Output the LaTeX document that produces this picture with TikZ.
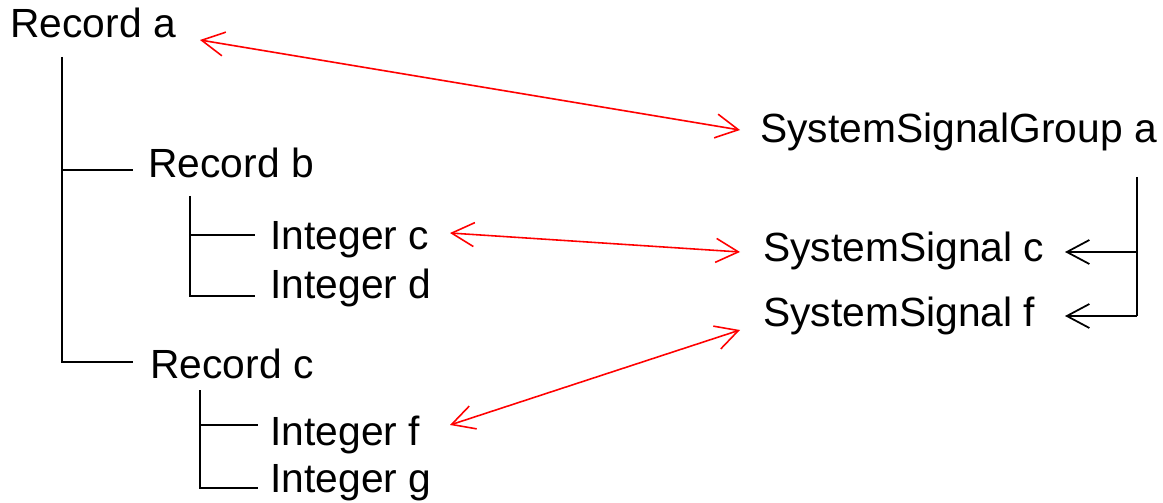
\documentclass[tikz,border=0pt]{standalone}
\usepackage{fontspec}
\setmainfont{Liberation Sans}
\usetikzlibrary{arrows.meta}

\begin{document}
\begin{tikzpicture}[
    x=0.02cm, y=-0.02cm,
    font=\fontsize{23.2}{27}\selectfont,
    lbl/.style={anchor=base west, inner sep=0pt},
    tree/.style={line width=1pt, draw=black},
    link/.style={{Straight Barb[length=4.5mm, width=4.8mm]}-{Straight Barb[length=4.5mm, width=4.8mm]}, line width=0.9pt, draw=red},
    feed/.style={-{Straight Barb[length=4.5mm, width=4.8mm]}, line width=1pt, draw=black}
  ]
    \useasboundingbox (0,0) rectangle (1163,503);
    % left side
    \node[lbl] (recA) at (10,38) {Record a};
    \node[lbl] (recB) at (148,178) {Record b};
    \node[lbl] (intC) at (270,250) {Integer c};
    \node[lbl] (intD) at (270,298) {Integer d};
    \node[lbl] (recC) at (150,378) {Record c};
    \node[lbl] (intF) at (270,445) {Integer f};
    \node[lbl] (intG) at (270,492) {Integer g};
    % right side
    \node[lbl] (ssg) at (760,143) {SystemSignalGroup a};
    \node[lbl] (sigC) at (763,262) {SystemSignal c};
    \node[lbl] (sigF) at (763,326) {SystemSignal f};
    % tree
    \draw[tree] (62,57) |- (133,362);
    \draw[tree] (62,170) -- (133,170);
    \draw[tree] (190,196) |- (255,296);
    \draw[tree] (190,235) -- (255,235);
    \draw[tree] (200,390) |- (258,488);
    \draw[tree] (200,425) -- (258,425);
    % group to signals
    \coordinate (grpTop) at (1137,177);
    \coordinate (grpC) at (1137,252);
    \coordinate (grpF) at (1137,316);
    \draw[tree] (grpTop) -- (grpF);
    \draw[feed] (grpC) -- (1065,252);
    \draw[feed] (grpF) -- (1065,316);
    % mappings
    \coordinate (mA) at (200,40);
    \coordinate (mAr) at (740,130);
    \coordinate (mC) at (450,233);
    \coordinate (mCr) at (740,252);
    \coordinate (mF) at (450,425);
    \coordinate (mFr) at (740,330);
    \draw[link] (mA) -- (mAr);
    \draw[link] (mC) -- (mCr);
    \draw[link] (mF) -- (mFr);
\end{tikzpicture}
\end{document}
